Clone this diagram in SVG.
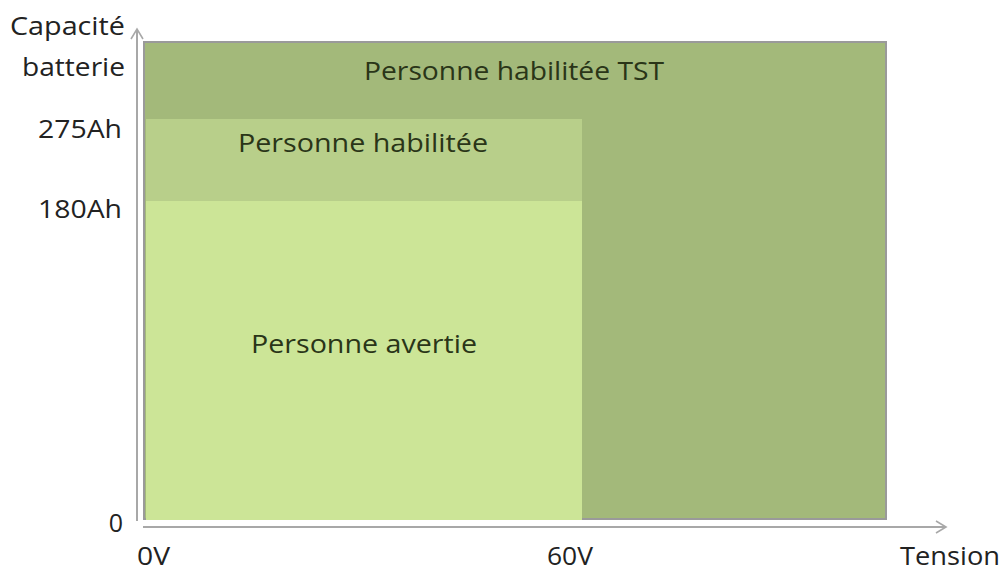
<svg xmlns="http://www.w3.org/2000/svg" width="1004" height="570" viewBox="0 0 1004 570">
<style>
.lbl{font-family:"Open Sans","Liberation Sans",sans-serif;font-size:25px;fill:#222;}
.in{font-family:"Open Sans","Liberation Sans",sans-serif;font-size:25px;fill:#2a3518;}
.ax{stroke:#a8a8a8;stroke-width:2;fill:none;}
</style>
<defs>
<marker id="arr" markerWidth="14" markerHeight="14" refX="12" refY="7" orient="auto" markerUnits="userSpaceOnUse">
<path d="M2,1 L12,7 L2,13" fill="none" stroke="#a8a8a8" stroke-width="1.6"/>
</marker>
</defs>
<rect width="1004" height="570" fill="#fff"/>
<g id="tst">
<rect x="144" y="42" width="742" height="477" fill="#a3b97a" stroke="#9a9a9a" stroke-width="2"/>
<text class="in" x="514" y="80" text-anchor="middle" textLength="300" lengthAdjust="spacingAndGlyphs">Personne habilitée TST</text>
</g>
<g id="habilitee">
<rect x="146" y="119" width="436" height="82" fill="#b8cf8a"/>
<text class="in" x="363" y="152" text-anchor="middle" textLength="250" lengthAdjust="spacingAndGlyphs">Personne habilitée</text>
</g>
<g id="avertie">
<rect x="146" y="201" width="436" height="319" fill="#cce597"/>
<text class="in" x="364" y="353" text-anchor="middle" textLength="226" lengthAdjust="spacingAndGlyphs">Personne avertie</text>
</g>
<g id="connectors">
<line class="ax" x1="137" y1="521" x2="137" y2="29" marker-end="url(#arr)"/>
<line class="ax" x1="143" y1="527" x2="946" y2="527" marker-end="url(#arr)"/>
</g>
<g id="labels">
<text class="lbl" x="125" y="35" text-anchor="end" textLength="115" lengthAdjust="spacingAndGlyphs">Capacité</text>
<text class="lbl" x="125" y="76" text-anchor="end" textLength="103" lengthAdjust="spacingAndGlyphs">batterie</text>
<text class="lbl" x="122" y="138" text-anchor="end" textLength="84" lengthAdjust="spacingAndGlyphs">275Ah</text>
<text class="lbl" x="122" y="218" text-anchor="end" textLength="84" lengthAdjust="spacingAndGlyphs">180Ah</text>
<text class="lbl" x="123" y="532" text-anchor="end">0</text>
<text class="lbl" x="137" y="565" textLength="33" lengthAdjust="spacingAndGlyphs">0V</text>
<text class="lbl" x="547" y="565" textLength="46" lengthAdjust="spacingAndGlyphs">60V</text>
<text class="lbl" x="900" y="565" textLength="100" lengthAdjust="spacingAndGlyphs">Tension</text>
</g>
</svg>
